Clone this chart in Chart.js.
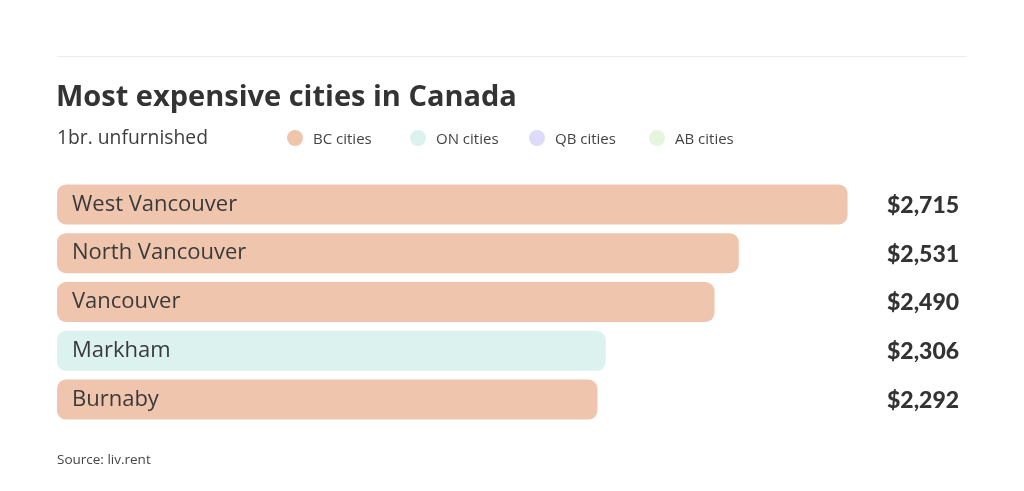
<!DOCTYPE html>
<html>
<head>
<meta charset="utf-8">
<script src="https://cdn.jsdelivr.net/npm/chart.js@4"></script>
<style>
  html, body { margin: 0; padding: 0; background: #fff; }
  body { width: 1024px; height: 491px; position: relative; overflow: hidden; font-family: "Open Sans", sans-serif; }
  #wrap { position: absolute; left: 0; top: 0; width: 1024px; height: 491px; }
  .rule { position: absolute; left: 57px; top: 56px; width: 910px; height: 1px; background: #ececec; }
  .title { position: absolute; left: 56px; top: 76px; font-size: 29px; font-weight: 700; color: #333; line-height: 38px; white-space: nowrap; }
  .subtitle { position: absolute; left: 57px; top: 125px; font-size: 19.3px; color: #3d3d3d; line-height: 24px; white-space: nowrap; }
  .legend { position: absolute; top: 128px; height: 20px; display: flex; align-items: center; font-size: 15px; color: #444; white-space: nowrap; }
  .dot { width: 16px; height: 16px; border-radius: 50%; margin-right: 10px; }
  .source { position: absolute; left: 57px; top: 450px; font-size: 13.5px; color: #444; line-height: 18px; white-space: nowrap; }
  .probe { position: absolute; left: -999px; top: -999px; }
</style>
</head>
<body>
<div id="wrap"><canvas id="c" width="1024" height="491"></canvas></div>
<div class="rule"></div>
<div class="title">Most expensive cities in Canada</div>
<div class="subtitle">1br. unfurnished</div>
<div id="legendBox"></div>
<div class="source">Source: liv.rent</div>
<span class="probe" style="font-family:'Open Sans';font-size:22px">x</span>
<span class="probe" style="font-family:'Lato';font-weight:900;font-size:23px">x</span>
<script>
// ---- data ----
const cities = ["West Vancouver", "North Vancouver", "Vancouver", "Markham", "Burnaby"];
const rents = [2715, 2531, 2490, 2306, 2292];
const regions = ["BC", "BC", "BC", "ON", "BC"];
const legendNames = ["BC cities", "ON cities", "QB cities", "AB cities"];
const legendKeys = ["BC", "ON", "QB", "AB"];
const axisMin = 1378;
const axisMax = 2736;

// ---- styles ----
const regionColors = { BC: "#f0c5ad", ON: "#dcf2ee", QB: "#dedafa", AB: "#e6f6dc" };

// legend (HTML)
const legendX = [287, 410, 529, 649];
const lb = document.getElementById("legendBox");
legendKeys.forEach((k, i) => {
  const d = document.createElement("div");
  d.className = "legend";
  d.style.left = legendX[i] + "px";
  d.innerHTML = '<span class="dot" style="background:' + regionColors[k] + '"></span><span>' + legendNames[i] + '</span>';
  lb.appendChild(d);
});

const fmt = v => "$" + v.toLocaleString("en-US");

const labelPlugin = {
  id: "barLabels",
  afterDatasetsDraw(chart) {
    const ctx = chart.ctx;
    const meta = chart.getDatasetMeta(0);
    ctx.save();
    meta.data.forEach((bar, i) => {
      ctx.textBaseline = "middle";
      ctx.textAlign = "left";
      ctx.fillStyle = "#3a3a3a";
      ctx.font = '22px "Open Sans", sans-serif';
      ctx.fillText(cities[i], chart.chartArea.left + 15, bar.y);
      ctx.fillStyle = "#333";
      ctx.font = '900 23px "Lato", sans-serif';
      ctx.fillText(fmt(rents[i]), 887, bar.y + 1);
    });
    ctx.restore();
  }
};

function build() {
  new Chart(document.getElementById("c"), {
    type: "bar",
    data: {
      labels: cities,
      datasets: [{
        data: rents,
        base: axisMin,
        backgroundColor: regions.map(r => regionColors[r]),
        borderRadius: 9,
        borderSkipped: false,
        categoryPercentage: 1,
        barPercentage: 0.82
      }]
    },
    options: {
      indexAxis: "y",
      responsive: false,
      animation: false,
      layout: { padding: { left: 57, right: 164, top: 180, bottom: 67 } },
      plugins: { legend: { display: false }, tooltip: { enabled: false }, title: { display: false } },
      scales: {
        x: { display: false, min: axisMin, max: axisMax },
        y: { display: false }
      }
    },
    plugins: [labelPlugin]
  });
}
Promise.all([
  document.fonts.load('22px "Open Sans"'),
  document.fonts.load('900 23px "Lato"')
]).then(build, build);
</script>
</body>
</html>
